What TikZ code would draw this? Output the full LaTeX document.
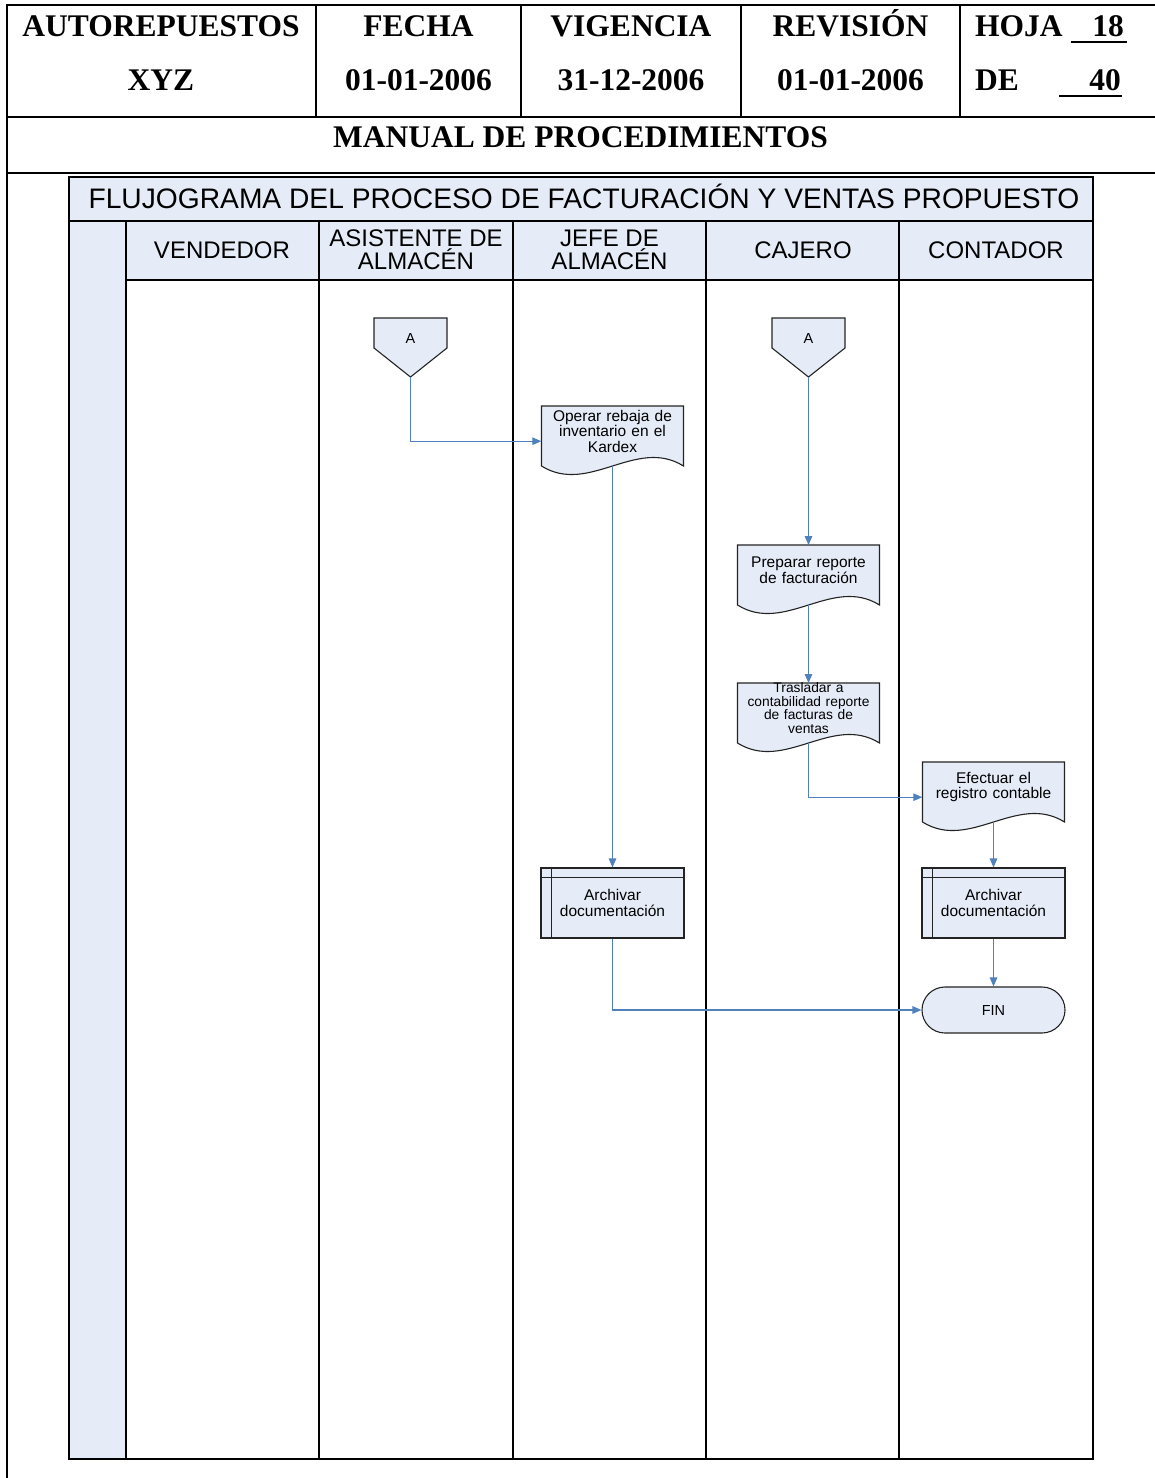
\documentclass[tikz,border=0pt]{standalone}
\usepackage{fontspec}
\setmainfont{Liberation Serif}
\newfontfamily\arialfont{Liberation Sans}
\usetikzlibrary{arrows.meta,calc}

\definecolor{paleblue}{RGB}{230,236,247}
\definecolor{flowblue}{RGB}{79,129,189}
\definecolor{edgegray}{RGB}{35,35,35}

\tikzset{
  sheetrule/.style={line width=2pt, black},
  headtext/.style={font=\bfseries\fontsize{31.5}{34}\selectfont, inner sep=0pt, anchor=base},
  lanerule/.style={line width=1.3pt, black},
  lanehead/.style={font=\arialfont\fontsize{24}{23}\selectfont, align=center, inner sep=0pt},
  shapeedge/.style={draw=edgegray, fill=paleblue, line width=1.1pt},
  shapetext/.style={font=\arialfont\fontsize{15.5}{15.5}\selectfont, align=center, text width=136pt, inner sep=0pt},
  smalltext/.style={font=\arialfont\fontsize{13.8}{13.7}\selectfont, align=center, text width=140pt, inner sep=0pt},
  docbox/.style={minimum width=142pt, minimum height=70pt, inner sep=0pt},
  procbox/.style={shapeedge, shapetext, minimum width=143pt, minimum height=70pt},
  termbox/.style={shapeedge, minimum width=143pt, minimum height=46pt, rounded corners=23pt,
    inner sep=0pt, font=\arialfont\fontsize{14.5}{15}\selectfont},
  flow/.style={draw=flowblue, line width=1.2pt, -{Triangle[length=9pt,width=7.5pt]}},
}

% document symbol: name, top-centre point, text style, text
\newcommand\docsymbol[4]{%
  \draw[shapeedge] (#2) ++(-71,0) -- ++(142,0) -- ++(0,60)
     .. controls +(-47.3,-29.5) and +(47.3,29.5) .. ++(-142,0) -- cycle;
  \node[docbox, anchor=north] (#1) at (#2) {};
  \node[#3] (#1-t) at ($(#2)+(0,25)$) {#4};
  \coordinate (#1-out) at ($(#2)+(0,60)$);
}

% off-page connector: name, centre of its letter, letter
\newcommand\offpage[3]{%
  \draw[shapeedge] (#2) ++(-36.5,-21) -- ++(73,0) -- ++(0,30) -- ++(-36.5,29)
     -- ++(-36.5,-29) -- cycle;
  \node[font=\arialfont\fontsize{14.5}{15}\selectfont, inner sep=0pt] (#1) at (#2) {#3};
  \coordinate (#1-tip) at ($(#2)+(0,38)$);
}

% process with inner frame lines
\newcommand\archbox[3]{%
  \node[procbox] (#1) at (#2) {#3};
  \draw[draw=edgegray, line width=1.1pt] ($(#1.north west)+(11,0)$) -- ($(#1.south west)+(11,0)$);
  \draw[draw=edgegray, line width=1.1pt] ($(#1.north west)+(0,10)$) -- ($(#1.north east)+(0,10)$);
}

\begin{document}
\begin{tikzpicture}[x=1pt,y=-1pt]
\useasboundingbox (0,0) rectangle (1155,1478);

% ---- sheet header table ----
\draw[sheetrule] (1155,5) -- (7,5) -- (7,1478);
\draw[sheetrule] (7,117) -- (1155,117);
\draw[sheetrule] (7,173) -- (1155,173);
\foreach \x in {316,521,741,960} \draw[sheetrule] (\x,5) -- (\x,117);

\node[headtext] (empresa)  at (161,36)   {AUTOREPUESTOS};
\node[headtext] (empresab) at (161,90)   {XYZ};
\node[headtext] (fecha)    at (418.5,36) {FECHA};
\node[headtext] (fechav)   at (418.5,90) {01-01-2006};
\node[headtext] (vigencia) at (631,36)   {VIGENCIA};
\node[headtext] (vigenv)   at (631,90)   {31-12-2006};
\node[headtext] (revision) at (850.5,36) {REVISIÓN};
\node[headtext] (revv)     at (850.5,90) {01-01-2006};
\node[headtext, anchor=base west] (hoja)  at (975,36) {HOJA};
\node[headtext, anchor=base east] (hojan) at (1124,36) {18};
\draw[sheetrule] ($(hojan.base east)+(3,5.5)$) -- ++(-56,0);
\node[headtext, anchor=base west] (de)    at (975,90) {DE};
\node[headtext, anchor=base east] (den)   at (1121,90) {40};
\draw[sheetrule] ($(den.base east)+(1,6)$) -- ++(-63,0);

\node[headtext] (manual) at (580.5,147) {MANUAL DE PROCEDIMIENTOS};

% ---- swimlane frame ----
\fill[paleblue] (69,177) rectangle (1093,221);
\fill[paleblue] (126,221) rectangle (1093,280);
\fill[paleblue] (69,221) rectangle (126,1459);
\draw[lanerule] (69,177) rectangle (1093,1459);
\draw[lanerule] (69,221) -- (1093,221);
\draw[lanerule] (126,280) -- (1093,280);
\foreach \x in {126,319,513,706,899} \draw[lanerule] (\x,221) -- (\x,1459);

\node[font=\arialfont\fontsize{28.2}{30}\selectfont, inner sep=0pt, anchor=base] (ftitle)
  at (584,208) {FLUJOGRAMA DEL PROCESO DE FACTURACIÓN Y VENTAS PROPUESTO};

\node[lanehead] (lvend) at (222,250.5) {VENDEDOR};
\node[lanehead] (lasis) at (416,250)   {ASISTENTE DE\\ALMACÉN};
\node[lanehead] (ljefe) at (609.5,250) {JEFE DE\\ALMACÉN};
\node[lanehead] (lcaj)  at (803,250.5) {CAJERO};
\node[lanehead] (lcont) at (996,250.5) {CONTADOR};

% ---- flow symbols ----
\offpage{ca}{410.5,339}{A}
\offpage{cb}{808.5,339}{A}

\docsymbol{opr}{612.5,406}{shapetext}{Operar rebaja de\\inventario en el\\Kardex}
\docsymbol{prep}{808.5,545}{shapetext}{Preparar reporte\\de facturación}
\docsymbol{tras}{808.5,683}{smalltext}{Trasladar a\\contabilidad reporte\\de facturas de\\ventas}
\docsymbol{efec}{993.5,762}{shapetext}{Efectuar el\\registro contable}

\archbox{arja}{612.5,903}{Archivar\\documentación}
\archbox{arco}{993.5,903}{Archivar\\documentación}

\node[termbox] (fin) at (993.5,1010) {FIN};

% ---- connectors ----
\draw[flow] (ca-tip) |- (opr.west);
\draw[flow] (opr-out) -- (arja.north);
\draw[flow] (cb-tip) -- (prep.north);
\draw[flow] (prep-out) -- (tras.north);
\draw[flow] (tras-out) |- (efec.west);
\draw[flow] (efec-out) -- (arco.north);
\draw[flow] (arco.south) -- (fin.north);
\draw[flow] (arja.south) |- (fin.west);
\end{tikzpicture}
\end{document}
